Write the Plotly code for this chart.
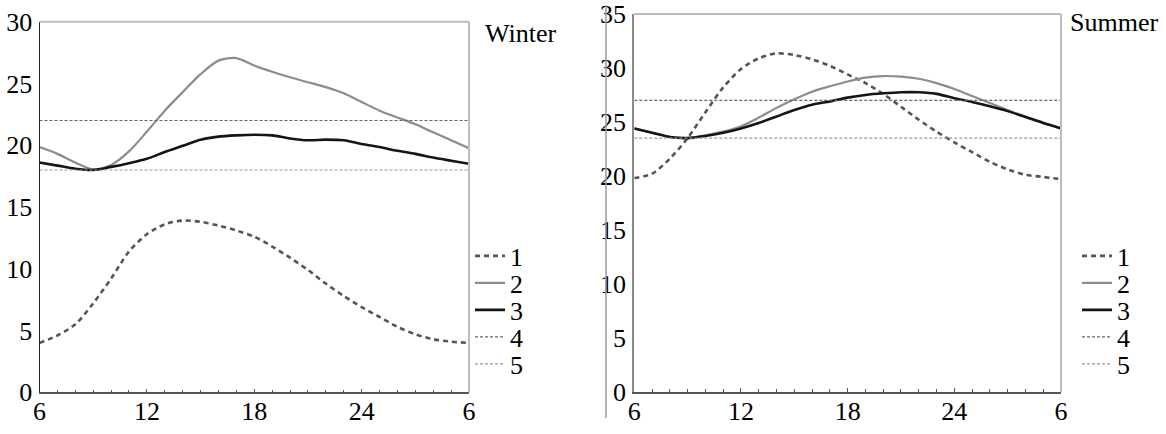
import plotly.graph_objects as go

hours = list(range(6, 31))
tick_vals = [6, 12, 18, 24, 30]
tick_text = ["6", "12", "18", "24", "6"]
series_names = ["1", "2", "3", "4", "5"]

# Winter
winter_1 = [4.0, 4.6, 5.5, 7.2, 9.2, 11.4, 12.8, 13.6, 13.9, 13.8, 13.5, 13.1, 12.6,
            11.8, 10.9, 9.9, 8.8, 7.8, 6.9, 6.1, 5.3, 4.7, 4.3, 4.1, 4.0]
winter_2 = [19.85, 19.3, 18.6, 18.05, 18.4, 19.5, 21.1, 22.8, 24.3, 25.75, 26.85, 27.05,
            26.45, 25.95, 25.5, 25.1, 24.7, 24.2, 23.5, 22.8, 22.25, 21.7, 21.05, 20.4, 19.75]
winter_3 = [18.6, 18.35, 18.1, 18.0, 18.25, 18.55, 18.9, 19.45, 19.95, 20.45, 20.7, 20.8,
            20.85, 20.8, 20.55, 20.4, 20.45, 20.4, 20.1, 19.85, 19.55, 19.3, 19.0, 18.75, 18.5]
winter_4 = 22.0
winter_5 = 18.0

# Summer
summer_1 = [19.8, 20.2, 21.6, 23.5, 25.9, 28.2, 29.9, 30.9, 31.35, 31.2, 30.8, 30.2, 29.4,
            28.6, 27.6, 26.4, 25.2, 24.1, 23.1, 22.2, 21.3, 20.6, 20.1, 19.9, 19.7]
summer_2 = [24.4, 24.0, 23.6, 23.5, 23.75, 24.1, 24.6, 25.4, 26.3, 27.1, 27.8, 28.3, 28.75,
            29.1, 29.25, 29.2, 29.0, 28.6, 28.05, 27.4, 26.75, 26.1, 25.5, 24.95, 24.4]
summer_3 = [24.4, 24.0, 23.6, 23.5, 23.7, 24.0, 24.4, 24.9, 25.5, 26.1, 26.6, 26.9, 27.25,
            27.5, 27.65, 27.75, 27.75, 27.6, 27.2, 26.85, 26.45, 26.0, 25.45, 24.9, 24.4]
summer_4 = 27.0
summer_5 = 23.5

FONT = "Liberation Serif, Times New Roman, serif"
W, H = 1166, 434

styles = [
    dict(color="#555555", width=2.6, dash="5px,4px"),
    dict(color="#8c8c8c", width=2.2, dash="solid"),
    dict(color="#151515", width=2.6, dash="solid"),
    dict(color="#666666", width=1.1, dash="3px,2px"),
    dict(color="#999999", width=1.1, dash="3px,2px"),
]

fig = go.Figure()

panels = [
    dict(xa="x", ya="y", data=[winter_1, winter_2, winter_3, [winter_4] * 2, [winter_5] * 2],
         leg_x=470),
    dict(xa="x2", ya="y2", data=[summer_1, summer_2, summer_3, [summer_4] * 2, [summer_5] * 2],
         leg_x=1077),
]

legend_y_px = [256, 283, 310, 337, 364]
legend_layouts = {}
idx = 0
for p in panels:
    for k, (name, vals) in enumerate(zip(series_names, p["data"])):
        idx += 1
        lname = "legend" if idx == 1 else f"legend{idx}"
        xs = hours if len(vals) == len(hours) else [hours[0], hours[-1]]
        fig.add_trace(go.Scatter(
            x=xs, y=vals, mode="lines", name=name,
            line=dict(color=styles[k]["color"], width=styles[k]["width"],
                      dash=styles[k]["dash"], shape="spline" if len(vals) > 2 else "linear",
                      smoothing=0.8),
            xaxis=p["xa"], yaxis=p["ya"], legend=lname, showlegend=True,
        ))
        legend_layouts[lname] = dict(
            x=p["leg_x"] / W, y=1 - legend_y_px[k] / H, xanchor="left", yanchor="middle",
            bgcolor="rgba(0,0,0,0)", borderwidth=0,
            font=dict(family=FONT, size=26, color="black"),
            itemclick=False, itemdoubleclick=False,
        )

axis_font = dict(family=FONT, size=26, color="black")

def xaxis_cfg(domain):
    return dict(domain=domain, range=[6, 30], tickvals=tick_vals, ticktext=tick_text,
                ticks="inside", ticklen=4, tickcolor="#555555", tickwidth=1,
                minor=dict(ticks="inside", dtick=1, tick0=6, ticklen=3, tickcolor="#555555"),
                showline=True, linecolor="#555555", linewidth=1.5, showgrid=False,
                zeroline=False, tickfont=axis_font, fixedrange=True, automargin=False,
                ticklabelstandoff=-5)

def yaxis_cfg(domain, rng, anchor, linecolor, lw):
    return dict(domain=domain, range=rng, dtick=5, tick0=0, ticks="", showline=True,
                linecolor=linecolor, linewidth=lw, showgrid=False, zeroline=False,
                tickfont=axis_font, anchor=anchor, fixedrange=True, ticklabelstandoff=1,
                automargin=False)

layout = dict(
    width=W, height=H, margin=dict(l=0, r=0, t=0, b=0, autoexpand=False),
    paper_bgcolor="white", plot_bgcolor="white",
    font=dict(family=FONT, size=26, color="black"),
    xaxis=dict(**xaxis_cfg([39.5 / W, 469 / W]), anchor="y"),
    yaxis=yaxis_cfg([(H - 392.3) / H, (H - 21.7) / H], [0, 30], "x", "#222222", 1.2),
    xaxis2=dict(**xaxis_cfg([634.3 / W, 1061 / W]), anchor="y2"),
    yaxis2=yaxis_cfg([(H - 391.7) / H, (H - 14) / H], [0, 35], "x2", "#8a8a8a", 2),
    showlegend=True,
    shapes=[
        dict(type="line", xref="x domain", yref="y domain", x0=0, x1=1, y0=1, y1=1,
             line=dict(color="#bdbdbd", width=2)),
        dict(type="line", xref="x domain", yref="y domain", x0=1, x1=1, y0=0, y1=1,
             line=dict(color="#bdbdbd", width=2)),
        dict(type="line", xref="x2 domain", yref="y2 domain", x0=0, x1=1, y0=1, y1=1,
             line=dict(color="#bdbdbd", width=2)),
        dict(type="line", xref="x2 domain", yref="y2 domain", x0=1, x1=1, y0=0, y1=1,
             line=dict(color="#bdbdbd", width=2)),
        dict(type="line", xref="paper", yref="paper", x0=606 / W, x1=606 / W,
             y0=1 - 418 / H, y1=1 - 5 / H, line=dict(color="#9a9a9a", width=1.5)),
    ],
    annotations=[
        dict(text="Winter", xref="paper", yref="paper", x=483 / W, y=1 - 33 / H,
             xanchor="left", yanchor="middle", showarrow=False,
             font=dict(family=FONT, size=26, color="black")),
        dict(text="Summer", xref="paper", yref="paper", x=1068 / W, y=1 - 22 / H,
             xanchor="left", yanchor="middle", showarrow=False,
             font=dict(family=FONT, size=26, color="black")),
    ],
)
layout.update(legend_layouts)
fig.update_layout(**layout)

fig.write_html(
    "out.html",
    config={"displayModeBar": False},
    post_script="document.body.style.margin='0px';document.body.style.overflow='hidden';",
)
